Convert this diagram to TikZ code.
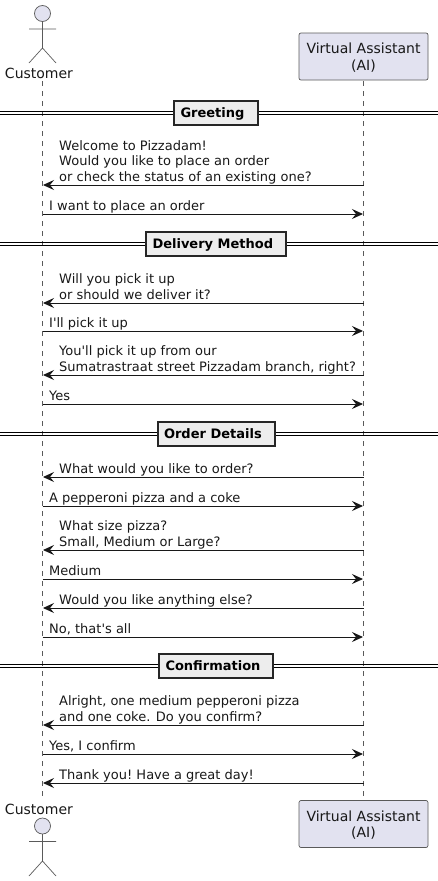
\documentclass[tikz,border=0pt]{standalone}
\usepackage{fontspec}
\setmainfont{DejaVu Sans}[Ligatures=TeXOff]
\usetikzlibrary{arrows.meta}
\definecolor{partfill}{HTML}{E2E2F0}
\definecolor{inkline}{HTML}{181818}
\definecolor{partline}{HTML}{5A5A5A}
\tikzset{
  msgline/.style={draw=inkline,line width=1pt,-{Stealth[length=11pt,width=10pt,inset=4pt]}},
  msgtext/.style={font=\fontsize{13}{15.5}\selectfont,text=inkline,inner sep=0pt,align=left,text depth=0pt,anchor=south west,yshift=3.6pt},
  lifeline/.style={draw=partline,line width=0.6pt,dash pattern=on 5pt off 5pt},
  partbox/.style={draw=partline,fill=partfill,rounded corners=2pt,line width=0.7pt,minimum width=129pt,minimum height=47pt,inner sep=0pt},
  partlabel/.style={font=\fontsize{14}{16.5}\selectfont,text=inkline,inner sep=0pt,align=center},
  partname/.style={font=\fontsize{14}{16}\selectfont,text=inkline,inner sep=0pt,anchor=base},
  stick/.style={draw=partline,line width=0.7pt},
  divider/.style={draw=black,line width=1pt},
  dividerbox/.style={draw=black!85,fill=black!7,line width=2pt,inner sep=0pt,minimum height=24pt},
  dividertext/.style={font=\fontsize{13}{15}\selectfont\bfseries,inner sep=0pt,anchor=base west},
}
\begin{document}
\begin{tikzpicture}[x=1pt,y=-1pt]
  \useasboundingbox (0,0) rectangle (438,881);
  % lifelines
  \coordinate (custTop) at (42.5,81);
  \coordinate (custBot) at (42.5,798);
  \coordinate (asstTop) at (363.5,81);
  \coordinate (asstBot) at (363.5,798);
  \draw[lifeline] (custTop) -- (custBot);
  \draw[lifeline] (asstTop) -- (asstBot);
  % participants
  \node[partbox] (asstHead) at (363.5,56.5) {};
  \node[partlabel,yshift=-1pt] (asstHeadT) at (asstHead) {Virtual Assistant\\(AI)};
  \node[partbox] (asstFoot) at (363.5,824) {};
  \node[partlabel,yshift=-1pt] (asstFootT) at (asstFoot) {Virtual Assistant\\(AI)};
  \node[partname] (custHead) at (39,78) {Customer};
  \node[partname] (custFoot) at (39,814) {Customer};
  % actors
  \draw[stick,fill=partfill] (42.5,13.5) circle (8);
  \draw[stick] (42.5,21.5) -- (42.5,48) (29,29) -- (56,29) (29,63) -- (42.5,48) -- (56,63);
  \draw[stick,fill=partfill] (42.5,826) circle (8);
  \draw[stick] (42.5,834) -- (42.5,861) (29,841.5) -- (56,841.5) (29,876) -- (42.5,861) -- (56,876);
  % dividers
  \foreach \n/\y/\w/\t in {greet/113/84/Greeting, deliv/244/140/Delivery Method, order/434/117/Order Details, conf/666/114/Confirmation}{
    \coordinate (\n L) at (0,\y);
    \coordinate (\n R) at (438,\y);
    \draw[divider] ([yshift=-1.6pt]\n L) -- ([yshift=-1.6pt]\n R);
    \draw[divider] ([yshift=1.6pt]\n L) -- ([yshift=1.6pt]\n R);
    \node[dividerbox,minimum width=\w pt] (\n) at (216.3,\y) {};
    \node[dividertext,xshift=7pt,yshift=-4.7pt] (\n T) at (\n.west) {\t};
  }
  % messages from the assistant
  \foreach \n/\y/\t in {m1/185/{Welcome to Pizzadam!\\Would you like to place an order\\or check the status of an existing one?},
      m3/303/{Will you pick it up\\or should we deliver it?},
      m5/375/{You'll pick it up from our\\Sumatrastraat street Pizzadam branch, right?},
      m7/477/{What would you like to order?},
      m9/550/{What size pizza?\\Small, Medium or Large?},
      m11/608/{Would you like anything else?},
      m13/725/{Alright, one medium pepperoni pizza\\and one coke. Do you confirm?},
      m15/783/{Thank you! Have a great day!}}{
    \coordinate (\n a) at (363.5,\y);
    \coordinate (\n c) at (43,\y);
    \draw[msgline] (\n a) -- (\n c);
    \node[msgtext] (\n) at (59,\y) {\frenchspacing\t};
  }
  % messages from the customer
  \foreach \n/\y/\t in {m2/214/{I want to place an order},
      m4/331/{I'll pick it up},
      m6/404/{Yes},
      m8/506/{A pepperoni pizza and a coke},
      m10/579/{Medium},
      m12/637/{No, that's all},
      m14/754/{Yes, I confirm}}{
    \coordinate (\n c) at (42.5,\y);
    \coordinate (\n a) at (363,\y);
    \draw[msgline] (\n c) -- (\n a);
    \node[msgtext] (\n) at (49,\y) {\frenchspacing\t};
  }
\end{tikzpicture}
\end{document}
